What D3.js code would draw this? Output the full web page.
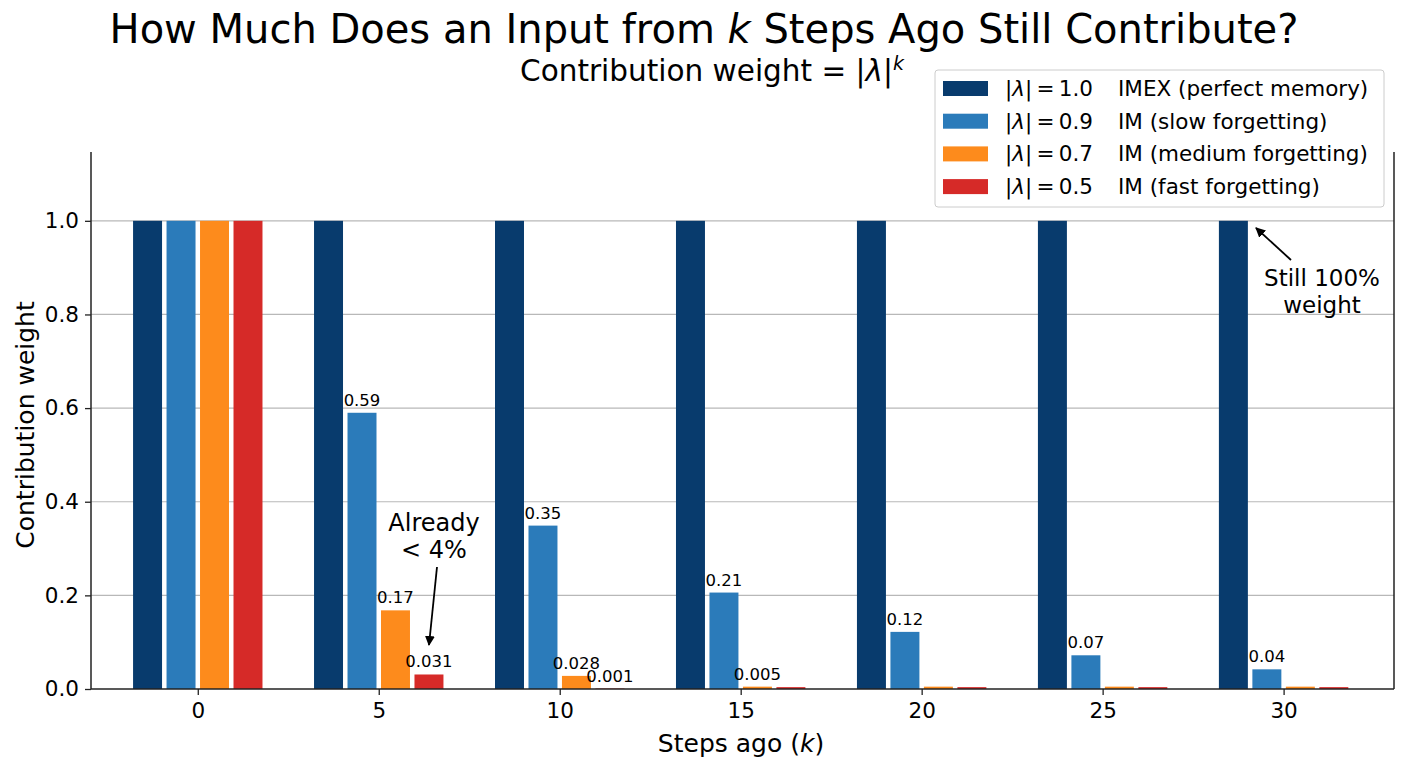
<!DOCTYPE html>
<html>
<head>
<meta charset="utf-8">
<script src="https://cdn.jsdelivr.net/npm/d3@7"></script>
<style>
  body { margin: 0; background: #fff; }
  text { font-family: "DejaVu Sans", sans-serif; fill: #000; }
</style>
</head>
<body>
<svg id="chart" width="1408" height="768"></svg>
<script>
// steps ago (x categories)
var steps = [0, 5, 10, 15, 20, 25, 30];
var yTicks = [0.0, 0.2, 0.4, 0.6, 0.8, 1.0];

// series values (tiny bars kept at their drawn height)
var imexVals   = [1.0, 1.0, 1.0, 1.0, 1.0, 1.0, 1.0];
var slowVals   = [1.0, 0.59, 0.349, 0.206, 0.122, 0.072, 0.042];
var mediumVals = [1.0, 0.168, 0.028, 0.005, 0.005, 0.005, 0.005];
var fastVals   = [1.0, 0.031, 0.001, 0.004, 0.004, 0.004, 0.004];

// value labels shown above bars: [series index, step index, text]
var barLabels = [
  [1, 1, "0.59"], [1, 2, "0.35"], [1, 3, "0.21"], [1, 4, "0.12"], [1, 5, "0.07"], [1, 6, "0.04"],
  [2, 1, "0.17"], [3, 1, "0.031"], [2, 2, "0.028"], [3, 2, "0.001"], [2, 3, "0.005"]
];

var seriesLam = ["1.0", "0.9", "0.7", "0.5"];
var seriesDesc = ["IMEX (perfect memory)", "IM (slow forgetting)", "IM (medium forgetting)", "IM (fast forgetting)"];
var colors = ["#083b6d", "#2b7bba", "#fd8b1c", "#d62a28"];

var series = [imexVals, slowVals, mediumVals, fastVals];

var svg = d3.select("#chart");
var margin = {left: 91, right: 14, top: 152, bottom: 79};
var W = 1408, H = 768;

var x = d3.scaleLinear().domain([-2.95, 33.05]).range([margin.left, W - margin.right]);
var y = d3.scaleLinear().domain([0, 1.147]).range([H - margin.bottom, margin.top]);

var slot = 0.925;   // bar slot in k units
var gap = 4.5;      // white edge between bars in px

// grid
svg.append("g").selectAll("line").data(yTicks.filter(function(d){ return d > 0; }))
  .enter().append("line")
  .attr("x1", x.range()[0]).attr("x2", x.range()[1])
  .attr("y1", function(d){ return y(d); }).attr("y2", function(d){ return y(d); })
  .attr("stroke", "#b8b8b8").attr("stroke-width", 1.2);

// bars
series.forEach(function(vals, si){
  var off = (si - 1.5) * slot;
  svg.append("g").selectAll("rect").data(vals).enter().append("rect")
    .attr("x", function(d, i){ return x(steps[i] + off - slot / 2) + gap / 2; })
    .attr("width", x(slot) - x(0) - gap)
    .attr("y", function(d){ return y(d); })
    .attr("height", function(d){ return y(0) - y(d); })
    .attr("fill", colors[si]);
});

// value labels
svg.append("g").selectAll("text").data(barLabels).enter().append("text")
  .attr("x", function(d){ return x(steps[d[1]] + (d[0] - 1.5) * slot); })
  .attr("y", function(d){ return y(series[d[0]][d[1]]) - 7; })
  .attr("text-anchor", "middle")
  .attr("font-size", 16.5)
  .text(function(d){ return d[2]; });

// axes
var yAxis = d3.axisLeft(y).tickValues(yTicks).tickFormat(d3.format(".1f")).tickSize(6).tickPadding(6);
var gy = svg.append("g").attr("transform", "translate(" + margin.left + ",0)").call(yAxis);
var xAxis = d3.axisBottom(x).tickValues(steps).tickSize(6).tickPadding(8);
var gx = svg.append("g").attr("transform", "translate(0," + (H - margin.bottom) + ")").call(xAxis);
[gx, gy].forEach(function(g){
  g.select(".domain").remove();
  g.selectAll(".tick line").attr("stroke", "#222").attr("stroke-width", 1.3);
  g.selectAll(".tick text").attr("font-size", 21.5).attr("font-family", "DejaVu Sans").attr("fill", "#000");
});
// spines (left, bottom, right)
svg.append("line").attr("x1", margin.left).attr("x2", margin.left).attr("y1", margin.top).attr("y2", y(0))
  .attr("stroke", "#222").attr("stroke-width", 1.5);
svg.append("line").attr("x1", W - margin.right).attr("x2", W - margin.right).attr("y1", margin.top).attr("y2", y(0))
  .attr("stroke", "#222").attr("stroke-width", 1.5);
svg.append("line").attr("x1", margin.left).attr("x2", W - margin.right).attr("y1", y(0)).attr("y2", y(0))
  .attr("stroke", "#222").attr("stroke-width", 1.5);

// axis labels
var xl = svg.append("text").attr("x", 741).attr("y", 752).attr("text-anchor", "middle").attr("font-size", 25);
xl.append("tspan").text("Steps ago (");
xl.append("tspan").attr("font-style", "italic").text("k");
xl.append("tspan").text(")");
svg.append("text").attr("transform", "translate(34,425) rotate(-90)").attr("text-anchor", "middle")
  .attr("font-size", 25).text("Contribution weight");

// title
var t = svg.append("text").attr("x", 704).attr("y", 43).attr("text-anchor", "middle").attr("font-size", 40);
t.append("tspan").text("How Much Does an Input from ");
t.append("tspan").attr("font-style", "italic").text("k");
t.append("tspan").text(" Steps Ago Still Contribute?");
var st = svg.append("text").attr("x", 712).attr("y", 81).attr("text-anchor", "middle").attr("font-size", 29.5);
st.append("tspan").text("Contribution weight = |");
st.append("tspan").attr("font-style", "italic").text("λ");
st.append("tspan").text("|");
st.append("tspan").attr("font-style", "italic").attr("font-size", 19).attr("dy", -11).text("k");

// arrowhead
svg.append("defs").append("marker").attr("id", "ah").attr("viewBox", "0 0 10 10")
  .attr("refX", 9).attr("refY", 5).attr("markerWidth", 10).attr("markerHeight", 10)
  .attr("markerUnits", "userSpaceOnUse").attr("orient", "auto")
  .append("path").attr("d", "M0,0 L10,5 L0,10 Z").attr("fill", "#000");

// annotation: already < 4%
var a1 = svg.append("text").attr("text-anchor", "middle").attr("font-size", 24);
a1.append("tspan").attr("x", 434).attr("y", 531).text("Already");
a1.append("tspan").attr("x", 434).attr("y", 558).text("< 4%");
svg.append("line").attr("x1", 437).attr("y1", 567).attr("x2", 429).attr("y2", 645)
  .attr("stroke", "#000").attr("stroke-width", 1.8).attr("marker-end", "url(#ah)");

// annotation: still 100% weight
var a2 = svg.append("text").attr("text-anchor", "middle").attr("font-size", 23);
a2.append("tspan").attr("x", 1322).attr("y", 286).text("Still 100%");
a2.append("tspan").attr("x", 1322).attr("y", 313).text("weight");
svg.append("line").attr("x1", 1291).attr("y1", 260).attr("x2", 1256).attr("y2", 228)
  .attr("stroke", "#000").attr("stroke-width", 1.8).attr("marker-end", "url(#ah)");

// legend
var lg = svg.append("g").attr("transform", "translate(935,70)");
lg.append("rect").attr("width", 449).attr("height", 137).attr("rx", 3)
  .attr("fill", "#fff").attr("fill-opacity", 0.85).attr("stroke", "#cccccc");
seriesLam.forEach(function(lam, i){
  var ry = 18 + i * 32.7;
  lg.append("rect").attr("x", 8).attr("y", ry - 7).attr("width", 45).attr("height", 15).attr("fill", colors[i]);
  var tx = lg.append("text").attr("x", 70).attr("y", ry + 8).attr("font-size", 21.5);
  tx.append("tspan").text("|");
  tx.append("tspan").attr("font-style", "italic").text("λ");
  tx.append("tspan").text("|\u2009=\u2009" + lam);
  lg.append("text").attr("x", 183).attr("y", ry + 8).attr("font-size", 21.5).text(seriesDesc[i]);
});
</script>
</body>
</html>
